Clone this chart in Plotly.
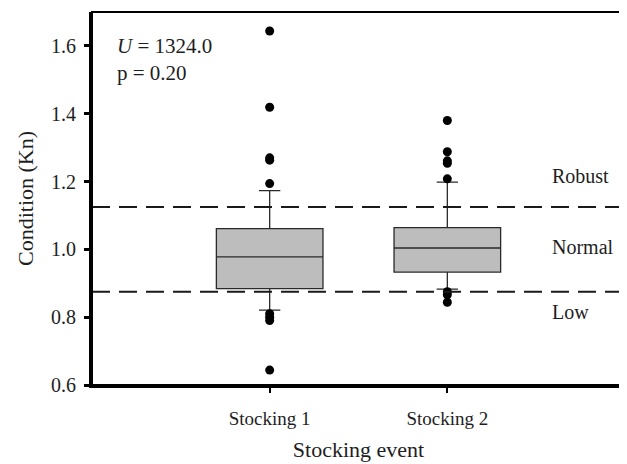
import plotly.graph_objects as go

categories = ["Stocking 1", "Stocking 2"]
q1 = [0.884, 0.933]
median = [0.978, 1.004]
q3 = [1.061, 1.064]
lower_whisker = [0.821, 0.883]
upper_whisker = [1.173, 1.198]
outliers_1 = [1.644, 1.419, 1.270, 1.263, 1.194, 0.810, 0.800, 0.790, 0.644]
outliers_2 = [1.380, 1.288, 1.261, 1.254, 1.208, 0.875, 0.866, 0.844]
thresholds = [0.875, 1.125]
class_labels = ["Robust", "Normal", "Low"]
class_label_y = [1.217, 1.007, 0.815]
stats_text = ["<i>U</i> = 1324.0", "p = 0.20"]
stats_y = [1.60, 1.52]

FONT = "Liberation Serif"
TXT = "#1e1e1e"

fig = go.Figure()
fig.add_trace(go.Box(
    x=categories, q1=q1, median=median, q3=q3,
    lowerfence=lower_whisker, upperfence=upper_whisker,
    fillcolor="#bdbdbd", line=dict(color="#2a2a2a", width=1.3),
    width=0.6, whiskerwidth=0.2, boxpoints=False, showlegend=False,
    hoverinfo="skip",
))
fig.add_trace(go.Scatter(
    x=[categories[0]] * len(outliers_1) + [categories[1]] * len(outliers_2),
    y=outliers_1 + outliers_2, mode="markers",
    marker=dict(color="black", size=9), showlegend=False,
))

for t in thresholds:
    fig.add_shape(type="line", xref="paper", yref="y", x0=0, x1=1, y0=t, y1=t,
                  line=dict(color="#1a1a1a", width=2, dash="18px,9px"))

for lab, yy in zip(class_labels, class_label_y):
    fig.add_annotation(x=(552 - 92) / (625 - 92), y=yy, xref="paper", yref="y", text=lab,
                       showarrow=False, xanchor="left", xshift=-2,
                       font=dict(family=FONT, size=20, color=TXT))

for txt, yy in zip(stats_text, stats_y):
    fig.add_annotation(x=(117 - 92) / (625 - 92), y=yy, xref="paper", yref="y",
                       text=txt, showarrow=False, xanchor="left", xshift=-2,
                       font=dict(family=FONT, size=21, color=TXT))

# frame
fig.add_shape(type="rect", xref="paper", yref="paper", x0=0, x1=1, y0=0, y1=1,
              line=dict(color="black", width=2), layer="above")

fig.update_layout(
    width=619, height=456,
    margin=dict(l=84, r=2, t=4, b=79),
    paper_bgcolor="white", plot_bgcolor="white",
    font=dict(family=FONT, size=19, color=TXT),
)
fig.update_xaxes(
    type="category", range=[-1, 2], showgrid=False, zeroline=False, automargin=False,
    showline=True, linecolor="black", linewidth=3,
    ticks="outside", ticklen=5, tickwidth=2, tickcolor="black", ticklabelstandoff=9,
    tickfont=dict(family=FONT, size=19, color=TXT),
    title=dict(text="Stocking event", font=dict(family=FONT, size=22, color=TXT), standoff=14),
)
fig.update_yaxes(
    range=[0.6, 1.7], tickvals=[0.6, 0.8, 1.0, 1.2, 1.4, 1.6], tickformat=".1f",
    showgrid=False, zeroline=False, automargin=False,
    showline=True, linecolor="black", linewidth=3,
    ticks="outside", ticklen=5, tickwidth=3, tickcolor="black", ticklabelstandoff=4,
    tickfont=dict(family=FONT, size=20, color=TXT),
    title=dict(text="Condition (Kn)", font=dict(family=FONT, size=22, color=TXT), standoff=12),
)

fig.write_html("out.html")
